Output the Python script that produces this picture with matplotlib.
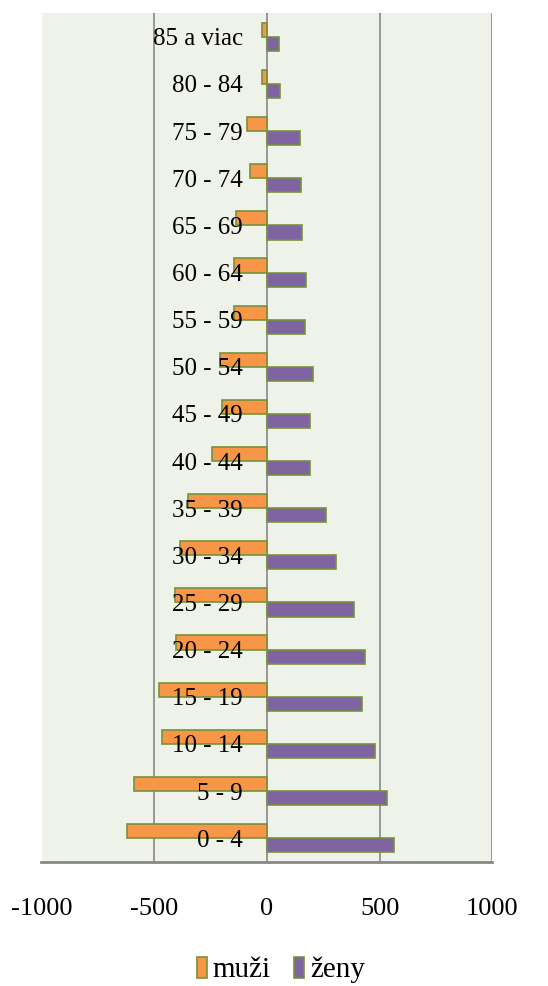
import matplotlib
matplotlib.use("Agg")
import matplotlib.pyplot as plt
import numpy as np
from matplotlib.patches import Patch

categories = ["0 - 4", "5 - 9", "10 - 14", "15 - 19", "20 - 24", "25 - 29",
              "30 - 34", "35 - 39", "40 - 44", "45 - 49", "50 - 54", "55 - 59",
              "60 - 64", "65 - 69", "70 - 74", "75 - 79", "80 - 84", "85 a viac"]
muzi = [-622, -588, -466, -477, -403, -407, -385, -351, -244, -198, -206,
        -147, -147, -139, -75, -87, -22, -23]
zeny = [562, 532, 480, 421, 434, 387, 307, 261, 193, 190, 204, 170, 175,
        154, 150, 145, 56, 52]
xticks = [-1000, -500, 0, 500, 1000]

plt.rcParams['font.family'] = ['Liberation Serif', 'DejaVu Serif']

fig = plt.figure(figsize=(5.48, 9.86), dpi=100)
ax = fig.add_axes([41.5/548, (986-861.7)/986, (492.3-41.5)/548, (861.7-13.3)/986])
ax.set_facecolor('#EFF2E9')

y = np.arange(len(categories))
h = 0.3
edge = '#76923C'
for xv in xticks:
    ax.axvline(xv, color='#888888', linewidth=1.2, zorder=1)
ax.barh(y + h/2, muzi, height=h, color='#F79646', edgecolor=edge, linewidth=1.2, zorder=2, label='muži')
ax.barh(y - h/2, zeny, height=h, color='#8064A2', edgecolor=edge, linewidth=1.2, zorder=2, label='ženy')

ax.set_xlim(-1000, 1000)
ax.set_ylim(-0.5, len(categories) - 0.5)
ax.set_xticks(xticks)
ax.set_xticklabels([str(v) for v in xticks], fontsize=19)
ax.set_yticks(y)
ax.set_yticklabels(categories, fontsize=18)
ax.tick_params(axis='y', length=0, pad=-145)
ax.tick_params(axis='x', length=0, pad=26)
ax.set_axisbelow(False)
ax.xaxis.set_zorder(3)
ax.yaxis.set_zorder(3)
for s in ['top', 'left', 'right']:
    ax.spines[s].set_visible(False)
ax.spines['bottom'].set_color('#888888')
ax.spines['bottom'].set_linewidth(2)
ax.spines['bottom'].set_zorder(3)

handles = [Patch(facecolor='#F79646', edgecolor=edge, linewidth=1.2),
           Patch(facecolor='#8064A2', edgecolor=edge, linewidth=1.2)]
fig.legend(handles, ['muži', 'ženy'], loc='center', bbox_to_anchor=(281/548, 1 - 970/986),
           ncol=2, frameon=False, fontsize=21, handlelength=0.35, handleheight=0.75,
           handletextpad=0.2, columnspacing=0.8, borderpad=0)

fig.savefig('out.png', dpi=100)
